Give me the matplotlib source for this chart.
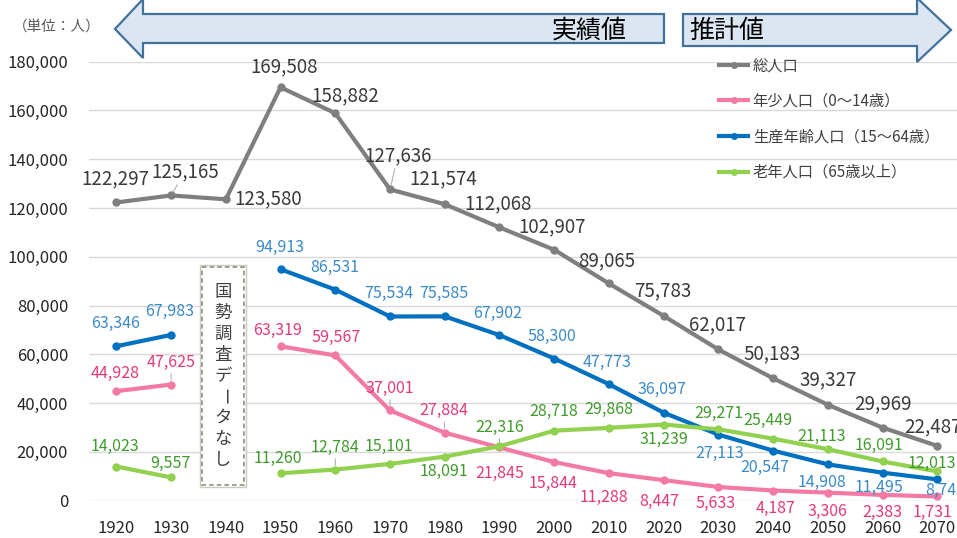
import matplotlib
matplotlib.use("Agg")
import matplotlib.pyplot as plt
import numpy as np
from matplotlib.patches import Polygon, Rectangle
from matplotlib.lines import Line2D
from matplotlib.ticker import FuncFormatter

plt.rcParams['font.family'] = ['Noto Sans CJK JP', 'DejaVu Sans']

# 国勢調査・推計データ (単位：人)
years = ["1920", "1930", "1940", "1950", "1960", "1970", "1980", "1990",
         "2000", "2010", "2020", "2030", "2040", "2050", "2060", "2070"]
total = [122297, 125165, 123580, 169508, 158882, 127636, 121574, 112068,
         102907, 89065, 75783, 62017, 50183, 39327, 29969, 22487]
young = [44928, 47625, None, 63319, 59567, 37001, 27884, 21845,
         15844, 11288, 8447, 5633, 4187, 3306, 2383, 1731]
working = [63346, 67983, None, 94913, 86531, 75534, 75585, 67902,
           58300, 47773, 36097, 27113, 20547, 14908, 11495, 8743]
old = [14023, 9557, None, 11260, 12784, 15101, 18091, 22316,
       28718, 29868, 31239, 29271, 25449, 21113, 16091, 12013]

series_names = ["総人口", "年少人口（0～14歳）", "生産年齢人口（15～64歳）", "老年人口（65歳以上）"]

# ラベル位置 (ピクセル単位のずれ)
off_total = [(-1, 24), (14, 24), (42, 1), (4, 21), (10, 17), (8, 34), (-1, 25), (-1, 24),
             (-2, 23), (-2, 23), (-1, 25), (-1, 25), (-1, 25), (0, 25), (0, 24), (-4, 19)]
off_young = [(-1, 18), (0, 22), None, (-3, 16), (1, 18), (0, 22), (-1, 22), (0, -26),
             (-1, -21), (-5, -24), (-4, -21), (-3, -16), (2, -18), (0, -19), (0, -18), (-5, -16)]
off_working = [(-1, 23), (-1, 23), None, (-1, 22), (-1, 22), (-1, 23), (-1, 23), (-2, 22),
               (-2, 22), (-2, 22), (-2, 23), (1, -19), (-8, -17), (-6, -18), (-4, -15), (8, -11)]
off_old = [(-1, 20), (-1, 14), None, (-3, 15), (0, 22), (-1, 17), (-1, -15), (0, 19),
           (-1, 19), (0, 18), (0, -15), (0, 16), (-5, 18), (-6, 13), (-4, 16), (-5, 8)]

lead_total = [1, 5]
lead_young = [1, 5, 6]
lead_old = [4, 7]

fig = plt.figure(figsize=(9.57, 5.38), dpi=100)
ax = fig.add_axes([0.093, 0.0693, 0.915, 0.816])

x = np.arange(len(years))


def to_arr(vals):
    return np.array([np.nan if v is None else v for v in vals], dtype=float)


styles = [
    (total, "#7f7f7f", "#3a3a3a", off_total, lead_total, 13.5),
    (young, "#f27aa4", "#e5397a", off_young, lead_young, 11.5),
    (working, "#0070c0", "#3a8ac6", off_working, [], 11.5),
    (old, "#92d050", "#3f9b2c", off_old, lead_old, 11.5),
]

handles = []
for vals, lc, tc, offs, leads, fs in styles:
    y = to_arr(vals)
    ax.plot(x, y, color=lc, lw=3, marker='o', ms=5, zorder=3)
    handles.append(Line2D([0], [0], color=lc, lw=3, marker='o', ms=4))
    for i, v in enumerate(vals):
        if v is None:
            continue
        dx, dy = offs[i]
        kw = {}
        if i in leads:
            kw['arrowprops'] = dict(arrowstyle='-', color='#a6a6a6', lw=0.7,
                                    shrinkA=0, shrinkB=3)
        ax.annotate(f"{v:,}", xy=(i, v), xytext=(dx, dy), textcoords='offset pixels',
                    ha='center', va='center', fontsize=fs, color=tc, zorder=5, **kw)

ax.set_xlim(-0.5, len(years) - 0.5)
ax.set_ylim(0, 180000)
ax.set_yticks(np.arange(0, 180001, 20000))
ax.yaxis.set_major_formatter(FuncFormatter(lambda v, p: f"{int(v):,}"))
ax.set_xticks(x)
ax.set_xticklabels(years)
ax.tick_params(axis='y', length=0, pad=15, labelsize=12, labelcolor='#262626')
ax.tick_params(axis='x', length=0, pad=14, labelsize=12, labelcolor='#262626')
ax.yaxis.grid(True, color='#d9d9d9', lw=1)
ax.set_axisbelow(True)
for s in ax.spines.values():
    s.set_visible(False)

ax.legend(handles, series_names, loc='upper left', frameon=False,
          bbox_to_anchor=(713 / 957, 1 - 51 / 538), bbox_transform=fig.transFigure,
          fontsize=11, handlelength=1.9, handletextpad=0.3, labelspacing=1.22,
          labelcolor='#404040', borderaxespad=0)

# 上部の矢印・注記
ov = fig.add_axes([0, 0, 1, 1], zorder=10)
ov.set_xlim(0, 957)
ov.set_ylim(538, 0)
ov.axis('off')

left_arrow = [(115, 29), (143, -1), (143, 14), (664, 14), (664, 43), (143, 43), (143, 58)]
right_arrow = [(683, 14), (917, 14), (917, -2), (951, 30), (917, 62), (917, 46), (683, 46)]
for pts in (left_arrow, right_arrow):
    ov.add_patch(Polygon(pts, closed=True, facecolor='#dce6f2', edgecolor='#41719c', lw=1.6))

ov.text(589, 31, "実績値", fontsize=18, color='black', ha='center', va='center')
ov.text(727, 31, "推計値", fontsize=18, color='black', ha='center', va='center')
ov.text(57, 27, "（単位：人）", fontsize=10.5, color='#595959', ha='center', va='center')

# 国勢調査データなし
ov.add_patch(Rectangle((200, 265), 46, 222, facecolor='white', edgecolor='#c8cbc0', lw=1.0))
ov.add_patch(Rectangle((202, 267), 42, 218, facecolor='none', edgecolor='#7f8a6f',
                       lw=1.1, linestyle=(0, (3, 2))))
note = "国勢調査データなし"
ys = np.linspace(292, 460, len(note))
for ch, yy in zip(note, ys):
    rot = -90 if ch == "ー" else 0
    ov.text(223, yy, ch, fontsize=12.5, color='#404040', ha='center', va='center', rotation=rot)

fig.savefig("out.png", dpi=100)
